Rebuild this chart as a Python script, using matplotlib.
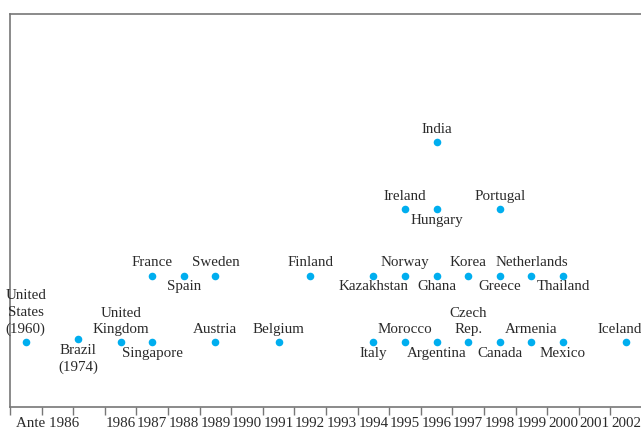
import matplotlib.pyplot as plt

# countries, slot on the x axis (year column), level (row), label side
names = ["United\nStates\n(1960)", "Brazil\n(1974)", "United\nKingdom", "Singapore",
         "France", "Spain", "Sweden", "Austria", "Belgium", "Finland",
         "Kazakhstan", "Italy", "Norway", "Morocco", "Ireland",
         "India", "Hungary", "Ghana", "Argentina",
         "Korea", "Czech\nRep.", "Portugal", "Greece", "Canada",
         "Netherlands", "Armenia", "Thailand", "Mexico", "Iceland"]
xpos = [0.5, 2.15, 3.5, 4.5,
        4.5, 5.5, 6.5, 6.5, 8.5, 9.5,
        11.5, 11.5, 12.5, 12.5, 12.5,
        13.5, 13.5, 13.5, 13.5,
        14.5, 14.5, 15.5, 15.5, 15.5,
        16.5, 16.5, 17.5, 17.5, 19.5]
level = [1, 1.05, 1, 1,
         2, 2, 2, 1, 1, 2,
         2, 1, 2, 1, 3,
         4, 3, 2, 1,
         2, 1, 3, 2, 1,
         2, 1, 2, 1, 1]
side = ["above", "below", "above", "below",
        "above", "below", "above", "above", "above", "above",
        "below", "below", "above", "above", "above",
        "above", "below", "below", "below",
        "above", "above", "above", "below", "below",
        "above", "above", "below", "below", "above"]

tick_labels = ["Ante 1986"] + [str(y) for y in range(1986, 2003)]
tick_pos = [1.2] + [3.5 + i for i in range(17)]

plt.rcParams['font.family'] = ['Liberation Serif', 'DejaVu Serif']

fig = plt.figure(figsize=(6.41, 4.30), dpi=100)
ax = fig.add_axes([10 / 641, 23 / 430, 1 - 10 / 641, 393 / 430])

ax.scatter(xpos, level, s=30, color='#00aeef', zorder=3, linewidths=0)

for n, x, y, s in zip(names, xpos, level, side):
    dx = -5 if n == "Iceland" else 0   # keep it inside the frame
    if s == "above":
        ax.annotate(n, (x, y), xytext=(dx, 4.5), textcoords='offset points',
                    ha='center', va='bottom', fontsize=10.8, color='#2a2a2a',
                    linespacing=1.35)
    else:
        ax.annotate(n, (x, y), xytext=(dx, -3.5), textcoords='offset points',
                    ha='center', va='top', fontsize=10.8, color='#2a2a2a',
                    linespacing=1.35)

ax.set_xlim(0, 19.97)
ax.set_ylim(0.03, 5.92)

# tick marks on the column borders, labels centred in the columns
ax.set_xticks(range(20))
ax.set_xticklabels([])
ax.tick_params(axis='x', which='major', length=6, color='#777777', width=1)
ax.set_xticks(tick_pos, minor=True)
ax.set_xticklabels(tick_labels, minor=True, fontsize=10.8, color='#2a2a2a')
ax.tick_params(axis='x', which='minor', length=0, pad=7)
ax.set_yticks([])

for sp in ['left', 'bottom', 'top']:
    ax.spines[sp].set_color('#777777')
    ax.spines[sp].set_linewidth(1.2)
ax.spines['right'].set_visible(False)

fig.savefig('out.png', dpi=100)
